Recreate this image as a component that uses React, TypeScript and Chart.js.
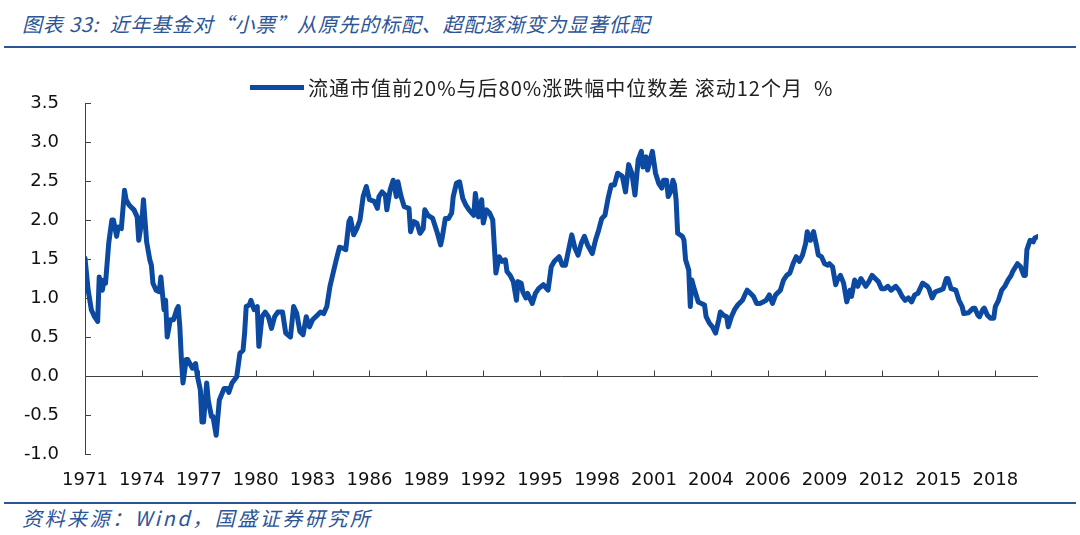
import React, { useEffect, useRef } from "react";
import { Chart, registerables } from "chart.js";

Chart.register(...registerables);

const titleText = "图表 33:  近年基金对“小票”从原先的标配、超配逐渐变为显著低配";
const sourceText = "资料来源：Wind，国盛证券研究所";
const seriesName = "流通市值前20%与后80%涨跌幅中位数差 滚动12个月  %";

// x-axis tick labels, one every 36 months
const tickLabels = [
  "1971", "1974", "1977", "1980", "1983", "1986", "1989", "1992", "1995",
  "1998", "2001", "2004", "2006", "2009", "2012", "2015", "2018",
];
const monthsPerTick = 36;
const lastMonth = 603;

// months elapsed since the start of 1971
const months = [
  0, 2, 4, 6, 8, 9, 11, 12, 13, 15,
  17, 18, 20, 21, 23, 25, 26, 28, 31, 33,
  34, 36, 37, 39, 41, 42, 43, 45, 47, 48,
  50, 51, 52, 54, 56, 58, 59, 60, 61, 62,
  64, 65, 68, 70, 71, 73, 74, 75, 77, 78,
  80, 81, 83, 85, 86, 88, 90, 91, 93, 96,
  98, 100, 101, 102, 104, 105, 107, 109, 110, 112,
  114, 116, 118, 120, 122, 125, 127, 130, 132, 134,
  136, 138, 140, 142, 144, 147, 149, 151, 153, 155,
  157, 159, 161, 163, 165, 167, 168, 170, 172, 174,
  176, 178, 180, 183, 185, 186, 188, 190, 191, 193,
  195, 197, 198, 200, 202, 205, 206, 208, 210, 212,
  214, 215, 217, 220, 223, 225, 226, 228, 230, 232,
  233, 235, 237, 239, 241, 243, 246, 247, 249, 251,
  252, 254, 256, 258, 259, 260, 262, 264, 266, 267,
  269, 271, 273, 274, 276, 277, 279, 280, 283, 285,
  287, 290, 293, 295, 297, 300, 302, 304, 306, 308,
  310, 312, 314, 316, 318, 321, 323, 325, 327, 329,
  331, 333, 335, 337, 340, 342, 344, 346, 348, 350,
  352, 353, 355, 356, 359, 361, 363, 365, 366, 368,
  369, 371, 372, 373, 374, 375, 378, 379, 380, 382,
  383, 384, 385, 387, 388, 390, 392, 393, 395, 397,
  399, 401, 402, 404, 406, 407, 409, 411, 413, 416,
  418, 419, 421, 423, 425, 427, 429, 431, 433, 435,
  437, 440, 442, 444, 446, 448, 450, 452, 454, 456,
  457, 459, 461, 463, 464, 466, 468, 470, 471, 473,
  475, 476, 478, 480, 482, 484, 485, 487, 489, 491,
  494, 496, 498, 500, 502, 504, 506, 508, 510, 513,
  515, 517, 519, 521, 523, 525, 527, 530, 533, 534,
  536, 538, 541, 543, 545, 546, 548, 551, 553, 555,
  556, 559, 562, 563, 565, 566, 568, 569, 571, 573,
  575, 576, 578, 580, 582, 584, 586, 587, 590, 592,
  594, 595, 596, 598, 600, 601, 603,
];

// median return spread, top 20% vs bottom 80% by free-float cap, rolling 12 months (%)
const spread = [
  1.51, 1.10, 0.85, 0.76, 0.70, 1.27, 1.10, 1.23, 1.19, 1.70,
  2.00, 2.00, 1.79, 1.91, 1.89, 2.38, 2.26, 2.19, 2.13, 2.04,
  1.74, 2.00, 2.26, 1.72, 1.49, 1.42, 1.19, 1.10, 1.08, 1.27,
  0.85, 0.97, 0.50, 0.72, 0.72, 0.85, 0.89, 0.63, 0.21, -0.09,
  0.21, 0.21, 0.10, 0.16, 0.01, -0.18, -0.59, -0.59, -0.09, -0.31,
  -0.52, -0.52, -0.76, -0.31, -0.26, -0.16, -0.16, -0.21, -0.09, -0.01,
  0.29, 0.33, 0.55, 0.89, 0.91, 0.97, 0.85, 0.89, 0.38, 0.76,
  0.82, 0.76, 0.61, 0.76, 0.82, 0.82, 0.55, 0.50, 0.89, 0.80,
  0.57, 0.53, 0.76, 0.63, 0.72, 0.78, 0.82, 0.80, 0.89, 1.15,
  1.32, 1.49, 1.65, 1.64, 1.62, 1.98, 2.02, 1.81, 1.89, 2.00,
  2.30, 2.43, 2.26, 2.24, 2.15, 2.30, 2.36, 2.32, 2.13, 2.38,
  2.51, 2.30, 2.49, 2.30, 2.17, 2.15, 1.85, 1.98, 1.96, 1.83,
  1.89, 2.13, 2.06, 2.02, 1.83, 1.68, 1.77, 2.02, 2.02, 2.09,
  2.30, 2.47, 2.49, 2.28, 2.19, 2.13, 2.06, 2.34, 2.04, 2.26,
  1.96, 2.13, 2.09, 2.00, 1.66, 1.32, 1.53, 1.47, 1.49, 1.34,
  1.29, 1.21, 0.97, 1.21, 1.19, 1.08, 1.00, 1.06, 0.93, 1.06,
  1.12, 1.17, 1.10, 1.40, 1.47, 1.53, 1.42, 1.42, 1.62, 1.81,
  1.64, 1.55, 1.70, 1.79, 1.68, 1.57, 1.74, 1.87, 2.02, 2.06,
  2.28, 2.45, 2.45, 2.60, 2.56, 2.36, 2.71, 2.60, 2.32, 2.77,
  2.88, 2.68, 2.81, 2.64, 2.88, 2.60, 2.47, 2.41, 2.51, 2.51,
  2.30, 2.38, 2.51, 2.45, 2.26, 1.83, 1.79, 1.74, 1.49, 1.36,
  0.89, 1.23, 1.15, 1.02, 0.95, 0.93, 0.91, 0.76, 0.68, 0.63,
  0.55, 0.72, 0.82, 0.78, 0.76, 0.63, 0.76, 0.85, 0.91, 0.97,
  1.06, 1.10, 1.06, 1.02, 0.93, 0.93, 0.95, 0.97, 1.04, 0.93,
  1.04, 1.10, 1.23, 1.29, 1.32, 1.44, 1.53, 1.47, 1.55, 1.70,
  1.85, 1.74, 1.85, 1.66, 1.55, 1.53, 1.44, 1.42, 1.44, 1.40,
  1.17, 1.23, 1.29, 1.19, 0.95, 1.10, 1.02, 1.23, 1.15, 1.25,
  1.15, 1.21, 1.29, 1.25, 1.21, 1.12, 1.12, 1.15, 1.10, 1.15,
  1.10, 1.02, 0.97, 1.00, 0.95, 1.04, 1.06, 1.19, 1.15, 1.12,
  1.00, 1.08, 1.10, 1.12, 1.25, 1.25, 1.12, 1.10, 0.97, 0.89,
  0.80, 0.81, 0.87, 0.87, 0.78, 0.76, 0.85, 0.87, 0.78, 0.74,
  0.74, 0.89, 0.97, 1.10, 1.15, 1.23, 1.29, 1.34, 1.44, 1.40,
  1.29, 1.29, 1.62, 1.74, 1.72, 1.77, 1.79,
];

const LINE_COLOR = "#0b4aa0";
const AXIS_COLOR = "#404040";
const BRAND_BLUE = "#2c5597";

const axisMarks = {
  id: "axisMarks",
  beforeDatasetsDraw(chart: any) {
    const { ctx, chartArea, scales } = chart;
    const x = scales.x;
    const y = scales.y;
    const y0 = Math.round(y.getPixelForValue(0)) + 0.5;
    ctx.save();
    ctx.strokeStyle = AXIS_COLOR;
    ctx.lineWidth = 1;
    ctx.beginPath();
    ctx.moveTo(chartArea.left, y0);
    ctx.lineTo(chartArea.right, y0);
    x.ticks.forEach((t: any) => {
      const px = Math.round(x.getPixelForValue(t.value)) + 0.5;
      ctx.moveTo(px, y0);
      ctx.lineTo(px, y0 - 6);
    });
    y.ticks.forEach((t: any) => {
      const py = Math.round(y.getPixelForValue(t.value)) + 0.5;
      ctx.moveTo(chartArea.left, py);
      ctx.lineTo(chartArea.left + 6, py);
    });
    ctx.stroke();
    ctx.restore();
  },
};

function LineChart() {
  const ref = useRef<HTMLCanvasElement | null>(null);
  useEffect(() => {
    if (!ref.current) return;
    const chart = new Chart(ref.current, {
      type: "line",
      data: {
        datasets: [
          {
            label: seriesName,
            data: months.map((m, i) => ({ x: m, y: spread[i] })),
            borderColor: LINE_COLOR,
            backgroundColor: LINE_COLOR,
            borderWidth: 5,
            pointRadius: 0,
            tension: 0,
            borderJoinStyle: "round",
            borderCapStyle: "round",
          },
        ],
      },
      options: {
        animation: false,
        responsive: false,
        devicePixelRatio: 1,
        layout: { padding: { top: 103, right: 42, left: 0, bottom: 0 } },
        plugins: { legend: { display: false }, tooltip: { enabled: false } },
        scales: {
          x: {
            type: "linear",
            min: 0,
            max: lastMonth,
            afterBuildTicks: (s: any) => {
              s.ticks = tickLabels.map((_, i) => ({ value: i * monthsPerTick }));
            },
            afterFit: (s: any) => {
              s.height = 46;
            },
            grid: { display: false, drawTicks: false },
            border: { display: false },
            ticks: {
              autoSkip: false,
              maxRotation: 0,
              padding: 16,
              color: "#111",
              font: { family: "DejaVu Sans", size: 18 },
              callback: (v: any) => tickLabels[Math.round(Number(v) / monthsPerTick)] ?? "",
            },
          },
          y: {
            min: -1,
            max: 3.5,
            afterFit: (s: any) => {
              s.width = 85;
            },
            grid: { drawOnChartArea: false, drawTicks: false },
            border: { display: true, color: AXIS_COLOR, width: 1 },
            ticks: {
              stepSize: 0.5,
              padding: 26,
              color: "#111",
              font: { family: "DejaVu Sans", size: 18 },
              callback: (v: any) => Number(v).toFixed(1),
            },
          },
        },
      },
      plugins: [axisMarks],
    });
    return () => chart.destroy();
  }, []);
  return (
    <canvas
      ref={ref}
      width={1080}
      height={500}
      style={{ position: "absolute", left: 0, top: 0, width: 1080, height: 500 }}
    />
  );
}

export default function App() {
  const cjk = '"Noto Sans CJK SC", "Noto Sans", sans-serif';
  return (
    <div
      style={{
        position: "fixed",
        left: 0,
        top: 0,
        width: 1080,
        height: 535,
        background: "#fff",
        overflow: "hidden",
      }}
    >
      <div
        style={{
          position: "absolute",
          left: 22,
          top: 10,
          fontFamily: cjk,
          fontStyle: "italic",
          fontSize: 20,
          letterSpacing: 0.8,
          color: BRAND_BLUE,
          whiteSpace: "pre",
          lineHeight: "28px",
        }}
      >
        {titleText}
      </div>
      <div
        style={{
          position: "absolute",
          left: 4,
          top: 46,
          width: 1072,
          height: 2,
          background: BRAND_BLUE,
        }}
      />
      <LineChart />
      <div
        style={{
          position: "absolute",
          left: 250,
          top: 73,
          height: 28,
          display: "flex",
          alignItems: "center",
          fontFamily: cjk,
          fontSize: 20,
          letterSpacing: 1,
          color: "#222",
          whiteSpace: "pre",
        }}
      >
        <span
          style={{
            display: "inline-block",
            width: 54,
            height: 5,
            background: LINE_COLOR,
            marginRight: 4,
          }}
        />
        <span>{seriesName}</span>
      </div>
      <div
        style={{
          position: "absolute",
          left: 4,
          top: 502,
          width: 1072,
          height: 2,
          background: BRAND_BLUE,
        }}
      />
      <div
        style={{
          position: "absolute",
          left: 22,
          top: 505,
          fontFamily: cjk,
          fontStyle: "italic",
          fontSize: 20,
          letterSpacing: 2.5,
          color: BRAND_BLUE,
          whiteSpace: "pre",
          lineHeight: "26px",
        }}
      >
        {sourceText}
      </div>
    </div>
  );
}
